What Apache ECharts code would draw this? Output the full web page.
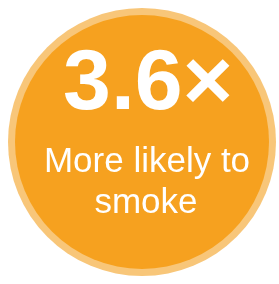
<!DOCTYPE html>
<html>
<head>
<meta charset="utf-8">
<script src="https://cdn.jsdelivr.net/npm/echarts@6/dist/echarts.min.js"></script>
<style>
  html, body { margin: 0; padding: 0; background: #fff; }
  #main { width: 279px; height: 284px; }
</style>
</head>
<body>
<div id="main"></div>
<script>
// badge data
var ratioValue = [3.6];
var ratioSuffix = ['\u00D7'];
var captionLines = ['More likely to', 'smoke'];

var chartDom = document.getElementById('main');
var myChart = echarts.init(chartDom);

var font = '"Liberation Sans", Arial, sans-serif';

function textEl(txt, x, y, size, weight) {
  return {
    type: 'text',
    x: x,
    y: y,
    z: 100,
    silent: true,
    style: {
      text: txt,
      fill: '#ffffff',
      fontFamily: font,
      fontSize: size,
      fontWeight: weight,
      textAlign: 'center',
      textVerticalAlign: 'middle'
    }
  };
}

var option = {
  backgroundColor: '#ffffff',
  animation: false,
  series: [
    {
      // light outer ring
      type: 'pie',
      silent: true,
      center: [142, 142],
      radius: [0, 134],
      label: { show: false },
      itemStyle: { color: '#f8c679' },
      data: [{ value: 1 }]
    },
    {
      // orange disc
      type: 'pie',
      silent: true,
      center: [142, 142],
      radius: [0, 127],
      label: { show: false },
      itemStyle: { color: '#f6a11f' },
      data: [{ value: 1 }]
    }
  ],
  graphic: {
    elements: [
      textEl(ratioValue[0].toFixed(1) + ratioSuffix[0], 148, 85, 86, 'bold'),
      textEl(captionLines[0], 147, 162, 35, 'normal'),
      textEl(captionLines[1], 146, 203, 35, 'normal')
    ]
  }
};

myChart.setOption(option);
</script>
</body>
</html>
